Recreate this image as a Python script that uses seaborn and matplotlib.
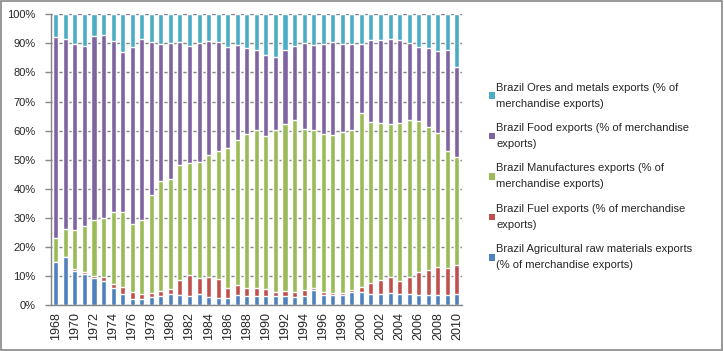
import numpy as np
import pandas as pd
import matplotlib
matplotlib.use('Agg')
import matplotlib.pyplot as plt
from matplotlib.patches import Patch, Rectangle
import seaborn as sns

# Brazil merchandise export shares (% of merchandise exports)
years = list(range(1968, 2011))
agri = [14.8, 16.5, 11.7, 10.7, 9.4, 8.3, 6.0, 3.8, 2.1, 2.1, 2.8, 3.2, 3.8,
        3.4, 3.1, 3.8, 2.8, 2.5, 2.5, 3.4, 3.2, 3.2, 3.2, 3.2, 3.2, 2.8, 3.2,
        5.3, 3.4, 3.4, 3.4, 4.5, 4.5, 3.8, 3.8, 4.1, 3.8, 3.8, 3.4, 3.4, 3.4,
        3.4, 3.8]
fuel = [0.0, 0.0, 0.7, 0.7, 0.6, 1.3, 1.3, 2.5, 2.4, 1.7, 1.3, 1.6, 1.7,
        5.2, 7.2, 5.6, 6.8, 6.4, 3.3, 3.5, 2.6, 2.6, 2.3, 1.3, 1.6, 1.7, 2.0,
        0.5, 1.1, 0.7, 0.7, 0.7, 1.7, 3.8, 4.8, 5.5, 4.5, 5.8, 8.0, 8.6, 9.7,
        9.3, 10.0]
manuf = [8.2, 9.6, 13.5, 15.8, 19.2, 20.3, 24.7, 25.7, 23.4, 25.4, 33.7, 37.9, 37.8,
         39.6, 38.6, 39.8, 42.0, 44.1, 48.3, 50.0, 53.0, 54.5, 52.6, 55.8, 57.5, 59.1, 55.4,
         54.4, 54.3, 54.4, 55.4, 55.0, 59.9, 55.4, 54.0, 52.7, 54.3, 54.0, 51.9, 49.2, 46.1,
         40.3, 37.1]
food = [69.2, 65.4, 64.0, 62.0, 63.3, 63.0, 58.9, 55.0, 60.9, 62.3, 52.7, 47.2, 46.8,
        42.3, 40.3, 40.9, 39.2, 37.5, 34.7, 32.5, 29.6, 27.4, 27.9, 25.0, 25.4, 25.6, 29.5,
        29.2, 31.1, 32.0, 30.4, 29.7, 23.8, 28.2, 28.6, 29.2, 28.6, 26.5, 25.5, 27.2, 28.2,
        34.7, 31.0]
ores = [7.8, 8.5, 10.1, 10.8, 7.5, 7.1, 9.1, 13.0, 11.2, 8.5, 9.5, 10.1, 9.9,
        9.5, 10.8, 9.9, 9.2, 9.5, 11.2, 10.6, 11.6, 12.3, 14.0, 14.7, 12.3, 10.8, 9.9,
        10.6, 10.1, 9.5, 10.1, 10.1, 10.1, 8.8, 8.8, 8.5, 8.8, 9.9, 11.2, 11.6, 12.6,
        12.3, 18.1]

labels = ["Brazil Agricultural raw materials exports\n(% of merchandise exports)",
          "Brazil Fuel exports (% of merchandise\nexports)",
          "Brazil Manufactures exports (% of\nmerchandise exports)",
          "Brazil Food exports (% of merchandise\nexports)",
          "Brazil Ores and metals exports (% of\nmerchandise exports)"]
colors = ["#4F81BD", "#C0504D", "#9BBB59", "#8064A2", "#4BACC6"]

df = pd.DataFrame({"year": [str(y) for y in years], "agri": agri, "fuel": fuel,
                   "manuf": manuf, "food": food, "ores": ores})
series = ["agri", "fuel", "manuf", "food", "ores"]
total = df[series].sum(axis=1)
cum = df[series].cumsum(axis=1).div(total, axis=0) * 100

sns.set_style("white")
plt.rcParams['font.family'] = ['Liberation Sans', 'DejaVu Sans']

fig = plt.figure(figsize=(7.24, 3.51), dpi=100)
ax = fig.add_axes([51 / 724, 1 - 305 / 351, (461.7 - 51) / 724, (305 - 14.3) / 351])

grid_c = "#868686"
ax.set_axisbelow(True)
ax.yaxis.grid(True, color=grid_c, linewidth=1)

# stacked 100% bars: draw cumulative tops from highest to lowest
for s, c in zip(series[::-1], colors[::-1]):
    sns.barplot(x=df["year"], y=cum[s], color=c, saturation=1, width=0.53,
                errorbar=None, ax=ax, zorder=2)

ax.set_xlim(-0.5, len(years) - 0.5)
ax.set_ylim(0, 100)
ax.set_yticks(np.arange(0, 101, 10))
ax.set_yticklabels([f"{v}%" for v in range(0, 101, 10)], fontsize=8)
ax.set_xticks(range(len(years)))
ax.set_xticklabels([str(y) if (y - 1968) % 2 == 0 else "" for y in years],
                   rotation=90, fontsize=9)
ax.set_xticks(np.arange(-0.5, len(years), 1), minor=True)
ax.tick_params(axis='x', which='major', length=0, pad=5)
ax.tick_params(axis='x', which='minor', length=4, color=grid_c, width=1, direction='out')
ax.tick_params(axis='y', length=4, color=grid_c, width=1, direction='out', left=True, pad=7)
ax.set_xlabel("")
ax.set_ylabel("")
for side in ["top", "right"]:
    ax.spines[side].set_visible(False)
for side in ["left", "bottom"]:
    ax.spines[side].set_color(grid_c)
    ax.spines[side].set_linewidth(1)

handles = [Patch(facecolor=c, edgecolor='none') for c in colors[::-1]]
leg = fig.legend(handles, labels[::-1], loc='upper left',
                 bbox_to_anchor=(483 / 724, 1 - 77 / 351), frameon=False,
                 fontsize=8, handlelength=0.55, handleheight=0.55,
                 handletextpad=0.15, labelspacing=1.3, borderpad=0)
for t in leg.get_texts():
    t.set_linespacing(1.75)

fig.patches.append(Rectangle((0.001, 0.002), 0.996, 0.995, transform=fig.transFigure,
                             fill=False, edgecolor=grid_c, linewidth=1.2))

fig.savefig("out.png", dpi=100)
